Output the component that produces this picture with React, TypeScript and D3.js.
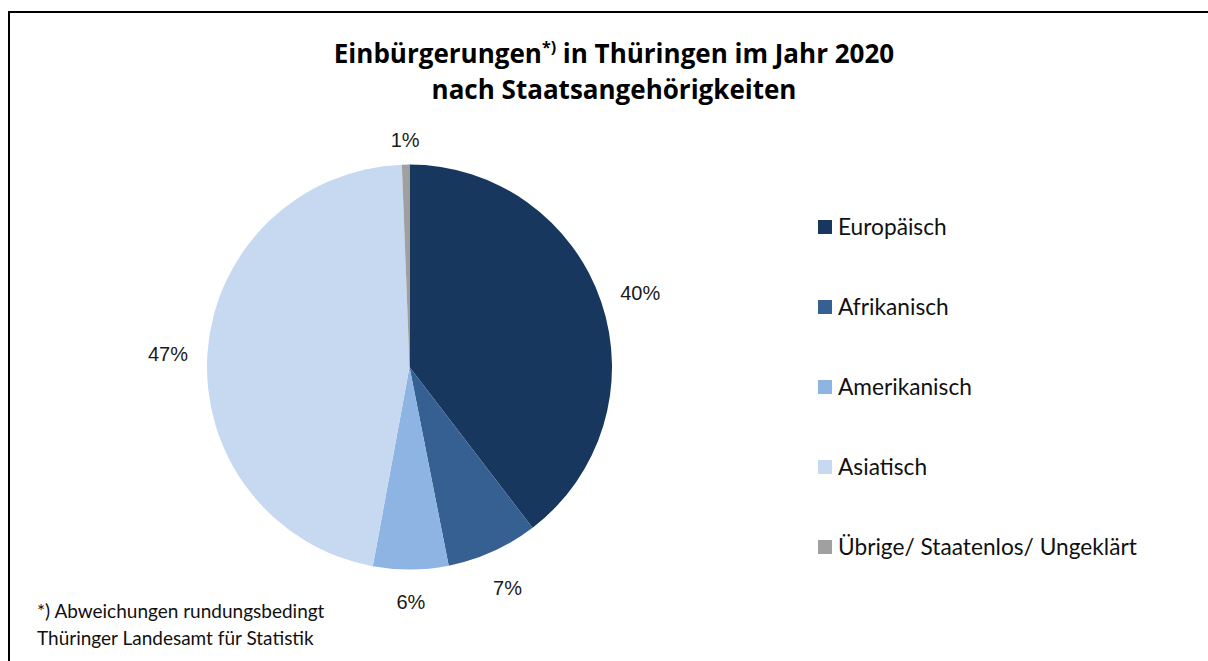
import React, { useEffect, useRef } from 'react';
import * as d3 from 'd3';

const categories = ['Europäisch', 'Afrikanisch', 'Amerikanisch', 'Asiatisch', 'Übrige/ Staatenlos/ Ungeklärt'];
const shares = [39.6, 7.3, 6.0, 46.5, 0.6];
const colors = ['#17375e', '#376092', '#8eb4e3', '#c6d9f1', '#a0a0a0'];
const notes = ['*) Abweichungen rundungsbedingt', 'Thüringer Landesamt für Statistik'];

const W = 1208;
const H = 661;

function App() {
  const ref = useRef<SVGSVGElement>(null);

  useEffect(() => {
    const svg = d3.select(ref.current);
    svg.selectAll('*').remove();

    // outer frame
    svg.append('rect')
      .attr('x', 9).attr('y', 12)
      .attr('width', W).attr('height', H)
      .attr('fill', 'white')
      .attr('stroke', 'black')
      .attr('stroke-width', 2);

    const titleFont = '"Open Sans", "Noto Sans", sans-serif';
    const title = svg.append('text')
      .attr('x', 614).attr('y', 63)
      .attr('text-anchor', 'middle')
      .style('font-family', titleFont)
      .style('font-weight', 'bold')
      .style('font-size', '26px');
    title.append('tspan').text('Einbürgerungen');
    title.append('tspan').attr('dy', -10).style('font-size', '16px').text('*)');
    title.append('tspan').attr('dy', 10).text(' in Thüringen im Jahr 2020');

    svg.append('text')
      .attr('x', 614).attr('y', 99)
      .attr('text-anchor', 'middle')
      .style('font-family', titleFont)
      .style('font-weight', 'bold')
      .style('font-size', '26px')
      .text('nach Staatsangehörigkeiten');

    const cx = 409.5, cy = 367, R = 202.5;
    const data = categories.map((c, i) => ({ label: c, value: shares[i], color: colors[i] }));
    const pie = d3.pie<any>().value(d => d.value).sort(null);
    const arc = d3.arc<any>().innerRadius(0).outerRadius(R);
    const total = d3.sum(shares);

    const g = svg.append('g').attr('transform', `translate(${cx},${cy})`);
    const arcs = pie(data);

    g.selectAll('path')
      .data(arcs)
      .enter().append('path')
      .attr('d', arc)
      .attr('fill', d => d.data.color);

    g.selectAll('text.lbl')
      .data(arcs)
      .enter().append('text')
      .attr('class', 'lbl')
      .attr('transform', d => {
        const a = (d.startAngle + d.endAngle) / 2;
        const s = Math.sin(a), c = -Math.cos(a);
        const r = R + 18 + Math.abs(s) * 21 + Math.abs(c) * 10;
        return `translate(${s * r},${c * r})`;
      })
      .attr('text-anchor', 'middle')
      .attr('dy', '0.55em')
      .style('font-family', '"Liberation Sans", Arial, sans-serif')
      .style('font-size', '20px')
      .attr('fill', '#1a1a1a')
      .text(d => Math.round(d.data.value / total * 100) + '%');

    // legend
    const legendFont = 'Lato, "Noto Sans", sans-serif';
    const ly = d3.scalePoint<string>().domain(categories).range([227, 547]);
    const leg = svg.append('g');
    categories.forEach((c, i) => {
      leg.append('rect')
        .attr('x', 818).attr('y', ly(c)! - 7)
        .attr('width', 14).attr('height', 14)
        .attr('fill', colors[i]);
      leg.append('text')
        .attr('x', 838).attr('y', ly(c)!)
        .attr('dy', '0.35em')
        .style('font-family', legendFont)
        .style('font-size', '22.7px')
        .attr('fill', '#111')
        .text(c);
    });

    notes.forEach((n, i) => {
      svg.append('text')
        .attr('x', 37).attr('y', 618 + i * 27)
        .style('font-family', legendFont)
        .style('font-size', '19px')
        .attr('fill', '#111')
        .text(n);
    });
  }, []);

  return (
    <svg ref={ref} width={W} height={H}
      style={{ position: 'absolute', left: 0, top: 0, background: 'white' }} />
  );
}

export default App;
